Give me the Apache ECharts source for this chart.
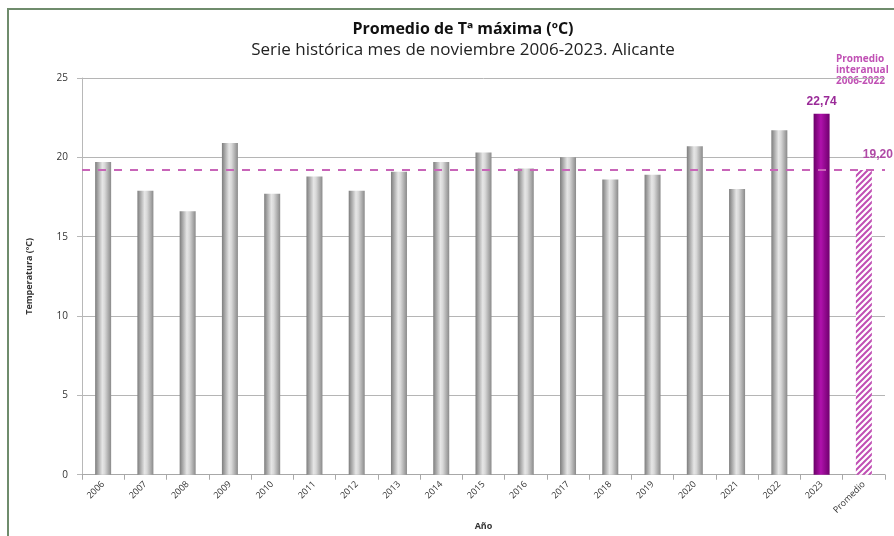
<!DOCTYPE html>
<html lang="es">
  <head>
    <meta charset="UTF-8" />
    <title>Promedio de Tª máxima</title>
    <style>
      body {
        margin: 0;
        width: 894px;
        height: 536px;
        background-color: #fff;
      }
      #frame {
        position: absolute;
        left: 7px;
        top: 8px;
        width: 887px;
        height: 528px;
        border-left: 2px solid #6f8c6c;
        border-top: 2px solid #6f8c6c;
      }
      #chart {
        position: absolute;
        left: 0;
        top: 0;
        width: 894px;
        height: 536px;
      }
    </style>
    <script src="https://cdn.jsdelivr.net/npm/echarts@6/dist/echarts.min.js"></script>
  </head>
  <body>
    <div id="frame"></div>
    <div id="chart"></div>
    <script>
      const years = ["2006", "2007", "2008", "2009", "2010", "2011", "2012", "2013", "2014",
        "2015", "2016", "2017", "2018", "2019", "2020", "2021", "2022", "2023", "Promedio"];
      const tmax = [19.7, 17.9, 16.6, 20.9, 17.7, 18.8, 17.9, 19.1, 19.7,
        20.3, 19.3, 20.0, 18.6, 18.9, 20.7, 18.0, 21.7, 22.74, 19.2];
      const promedio = 19.2;
      const yTicks = [0, 5, 10, 15, 20, 25];

      // hatch pattern for the average bar
      const hatch = document.createElement("canvas");
      hatch.width = 6;
      hatch.height = 6;
      const hctx = hatch.getContext("2d");
      hctx.fillStyle = "#fff";
      hctx.fillRect(0, 0, 6, 6);
      hctx.strokeStyle = "#c04fb4";
      hctx.lineWidth = 2;
      hctx.beginPath();
      hctx.moveTo(-1, 7);
      hctx.lineTo(7, -1);
      hctx.moveTo(-4, 4);
      hctx.lineTo(4, -4);
      hctx.moveTo(2, 10);
      hctx.lineTo(10, 2);
      hctx.stroke();

      const grayBar = new echarts.graphic.LinearGradient(0, 0, 1, 0, [
        { offset: 0, color: "#7d7d7d" },
        { offset: 0.45, color: "#e6e6e6" },
        { offset: 0.6, color: "#d8d8d8" },
        { offset: 1, color: "#8a8a8a" },
      ]);
      const purpleBar = new echarts.graphic.LinearGradient(0, 0, 1, 0, [
        { offset: 0, color: "#6a0068" },
        { offset: 0.45, color: "#b012ac" },
        { offset: 1, color: "#70006e" },
      ]);

      const valueLabel = (p) => p.value.toFixed(2).replace(".", ",");

      const barData = tmax.map((v, i) => {
        const item = { value: v, itemStyle: { color: grayBar } };
        if (years[i] === "2023") {
          item.itemStyle = { color: purpleBar };
          item.label = {
            show: true,
            position: "top",
            formatter: valueLabel,
            color: "#9a2a98",
            fontWeight: "bold",
            fontSize: 12,
            distance: 6,
          };
        }
        if (years[i] === "Promedio") {
          item.itemStyle = { color: { image: hatch, repeat: "repeat" } };
          item.label = {
            show: true,
            position: "top",
            offset: [14, -4],
            formatter: valueLabel,
            color: "#b04aa6",
            fontWeight: "bold",
            fontSize: 12,
          };
        }
        return item;
      });

      const chart = echarts.init(document.getElementById("chart"));
      chart.setOption({
        animation: false,
        title: {
          text: "Promedio de Tª máxima (ºC)",
          subtext: "Serie histórica mes de noviembre 2006-2023. Alicante",
          left: 458,
          textAlign: "center",
          top: 16,
          itemGap: 5,
          textStyle: { fontFamily: "Open Sans", fontSize: 16, fontWeight: "bold", color: "#111" },
          subtextStyle: { fontFamily: "Open Sans", fontSize: 17, color: "#222" },
        },
        graphic: [
          {
            type: "text",
            left: 836,
            top: 54,
            style: {
              text: "Promedio\ninteranual\n2006-2022",
              fill: "#c050b4",
              font: "bold 10px 'Open Sans'",
              lineHeight: 11,
            },
          },
        ],
        grid: { left: 82, right: 9, top: 78, bottom: 58 },
        xAxis: {
          type: "category",
          data: years,
          name: "Año",
          nameLocation: "middle",
          nameGap: 40,
          nameTextStyle: { fontFamily: "Open Sans", fontSize: 9, fontWeight: "bold", color: "#333" },
          axisLine: { lineStyle: { color: "#a8a8a8" } },
          axisTick: { show: true, lineStyle: { color: "#a8a8a8" } },
          axisLabel: { rotate: 45, fontSize: 9, color: "#333", fontFamily: "Open Sans", margin: 8 },
        },
        yAxis: {
          type: "value",
          min: yTicks[0],
          max: yTicks[yTicks.length - 1],
          interval: 5,
          name: "Temperatura (ºC)",
          nameLocation: "middle",
          nameGap: 48,
          nameTextStyle: { fontFamily: "Open Sans", fontSize: 9, fontWeight: "bold", color: "#333" },
          axisLine: { show: true, lineStyle: { color: "#b8b8b8" } },
          axisTick: { show: true, lineStyle: { color: "#b8b8b8" } },
          axisLabel: { fontSize: 10, color: "#333", fontFamily: "Open Sans", margin: 14 },
          splitLine: { lineStyle: { color: "#b5b5b5" } },
        },
        series: [
          {
            type: "bar",
            data: barData,
            barWidth: 16,
            markLine: {
              symbol: "none",
              silent: true,
              label: { show: false },
              lineStyle: { color: "#c865b8", type: [8, 8], width: 2 },
              data: [{ yAxis: promedio }],
            },
          },
        ],
      });
    </script>
  </body>
</html>
